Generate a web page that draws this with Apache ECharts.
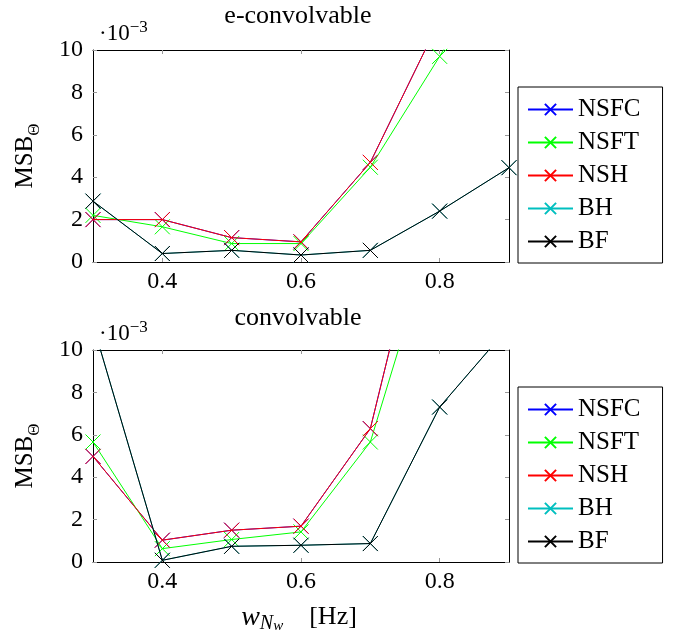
<!DOCTYPE html>
<html>
<head>
<meta charset="utf-8">
<script src="https://cdn.jsdelivr.net/npm/echarts@6/dist/echarts.min.js"></script>
<style>html,body{margin:0;padding:0;background:#fff}#c{width:681px;height:635px}</style>
</head>
<body>
<div id="c"></div>
<script>
var xs = [0.3, 0.4, 0.5, 0.6, 0.7, 0.8, 0.9];
var seriesNames = ['NSFC', 'NSFT', 'NSH', 'BH', 'BF'];
var seriesColors = ['#0000ff', '#00ff00', '#ff0000', '#00bfbf', '#000000'];
var xTicks = [0.4, 0.6, 0.8];
var yTicks = [0, 2, 4, 6, 8, 10];

// top panel: e-convolvable (values x 1e-3)
var topNSFC = [2.0, 2.0, 1.15, 0.95, 4.7, 11.4, 18.0];
var topNSFT = [2.2, 1.66, 0.87, 0.87, 4.47, 9.7, 15.0];
var topNSH  = [2.0, 2.0, 1.15, 0.95, 4.7, 11.4, 18.0];
var topBH   = [2.87, 0.4, 0.55, 0.33, 0.55, 2.4, 4.45];
var topBF   = [2.87, 0.4, 0.55, 0.33, 0.55, 2.4, 4.45];

// bottom panel: convolvable
var botNSFC = [4.98, 1.03, 1.5, 1.69, 6.29, 19.7, 30.0];
var botNSFT = [5.66, 0.63, 1.06, 1.42, 5.66, 16.4, 25.0];
var botNSH  = [4.98, 1.03, 1.5, 1.69, 6.29, 19.7, 30.0];
var botBH   = [11.2, 0.08, 0.74, 0.79, 0.87, 7.31, 11.1];
var botBF   = [11.2, 0.08, 0.74, 0.79, 0.87, 7.31, 11.1];

var FONT = 'Liberation Serif';
var FS = 24;
var topData = [topNSFC, topNSFT, topNSH, topBH, topBF];
var botData = [botNSFC, botNSFT, botNSH, botBH, botBF];

function pairs(vals) { return xs.map(function (x, i) { return [x, vals[i]]; }); }

var X_SYM = 'path://M0,0L10,10M10,0L0,10';

function mkSeries(dataSets, gi) {
  return dataSets.map(function (d, i) {
    return {
      name: seriesNames[i],
      type: 'line',
      xAxisIndex: gi * 2,
      yAxisIndex: gi * 2,
      data: pairs(d),
      symbol: X_SYM,
      symbolSize: 15,
      showAllSymbol: true,
      clip: true,
      color: seriesColors[i],
      lineStyle: { width: 1, color: seriesColors[i] },
      itemStyle: { color: seriesColors[i], borderColor: seriesColors[i], borderWidth: 1 },
      emphasis: { disabled: true },
      animation: false,
      z: 2 + i
    };
  });
}

function xAxes(gi) {
  var base = {
    type: 'value', gridIndex: gi, min: 0.3, max: 0.9,
    axisLine: { show: true, onZero: false, lineStyle: { color: '#000', width: 1 } },
    axisTick: { show: true, inside: true, length: 4, customValues: xTicks, lineStyle: { color: '#999' } },
    splitLine: { show: false }
  };
  var bottom = Object.assign({}, base, {
    position: 'bottom',
    axisLabel: { show: true, customValues: xTicks, margin: 8, fontFamily: FONT, fontSize: FS, color: '#000',
      formatter: function (v) { return v.toFixed(1); } }
  });
  var top = Object.assign({}, base, { position: 'top', axisLabel: { show: false } });
  return [bottom, top];
}

function yAxes(gi) {
  var base = {
    type: 'value', gridIndex: gi, min: 0, max: 10, interval: 2,
    axisLine: { show: true, onZero: false, lineStyle: { color: '#000', width: 1 } },
    axisTick: { show: true, inside: true, length: 4, lineStyle: { color: '#999' } },
    splitLine: { show: false }
  };
  var left = Object.assign({}, base, {
    position: 'left',
    axisLabel: { show: true, margin: 10, fontFamily: FONT, fontSize: FS, color: '#000' }
  });
  var right = Object.assign({}, base, { position: 'right', axisLabel: { show: false } });
  return [left, right];
}

function mkLegend(top) {
  return {
    orient: 'vertical', left: 518, top: top,
    data: seriesNames,
    backgroundColor: '#fff',
    borderColor: '#000', borderWidth: 1, borderRadius: 0,
    padding: [10, 22, 9, 9],
    itemGap: 8, itemWidth: 45, itemHeight: 14,
    selectedMode: false,
    textStyle: { fontFamily: FONT, fontSize: 25, color: '#000', lineHeight: 25 }
  };
}

function supText(x, y) {
  return {
    type: 'text', left: x, top: y,
    style: {
      text: '{a|·10}{b|−3}',
      rich: {
        a: { fontFamily: FONT, fontSize: 23, lineHeight: 26, verticalAlign: 'bottom', fill: '#000' },
        b: { fontFamily: FONT, fontSize: 17, lineHeight: 16, verticalAlign: 'top', fill: '#000' }
      }
    }
  };
}

function yName(cy) {
  return {
    type: 'text', x: 28, y: cy, rotation: Math.PI / 2,
    style: {
      text: '{a|MSB}{b|Θ}', align: 'center', verticalAlign: 'middle',
      rich: {
        a: { fontFamily: FONT, fontSize: 25, lineHeight: 30, verticalAlign: 'top', fill: '#000' },
        b: { fontFamily: FONT, fontSize: 17, lineHeight: 18, verticalAlign: 'bottom', fill: '#000' }
      }
    }
  };
}

function title(text, cy) {
  return {
    type: 'text', x: 298, y: cy,
    style: { text: text, fontFamily: FONT, fontSize: 26, fill: '#000', align: 'center', verticalAlign: 'middle' }
  };
}

var chart = echarts.init(document.getElementById('c'), null, { renderer: 'canvas' });
var xa = xAxes(0).concat(xAxes(1));
var ya = yAxes(0).concat(yAxes(1));
chart.setOption({
  animation: false,
  backgroundColor: '#fff',
  grid: [
    { left: 93, top: 50, width: 416, height: 212, containLabel: false },
    { left: 93, top: 350, width: 416, height: 212, containLabel: false }
  ],
  xAxis: xa,
  yAxis: ya,
  legend: [mkLegend(87), mkLegend(387)],
  series: mkSeries(topData, 0).concat(mkSeries(botData, 1)),
  graphic: [
    title('e-convolvable', 16),
    title('convolvable', 318),
    supText(99, 19),
    supText(99, 319),
    yName(156),
    yName(456),
    {
      type: 'text', x: 299, y: 619,
      style: {
        text: '{i|w}{s|N}{ss|w}{n|    [Hz]}', align: 'center', verticalAlign: 'middle',
        rich: {
          i: { fontFamily: FONT, fontStyle: 'italic', fontSize: 28, lineHeight: 30, verticalAlign: 'top', fill: '#000' },
          s: { fontFamily: FONT, fontStyle: 'italic', fontSize: 20, lineHeight: 19, verticalAlign: 'bottom', fill: '#000' },
          ss: { fontFamily: FONT, fontStyle: 'italic', fontSize: 15, lineHeight: 11, verticalAlign: 'bottom', fill: '#000' },
          n: { fontFamily: FONT, fontSize: 26, lineHeight: 30, verticalAlign: 'top', fill: '#000' }
        }
      }
    }
  ]
});
</script>
</body>
</html>
